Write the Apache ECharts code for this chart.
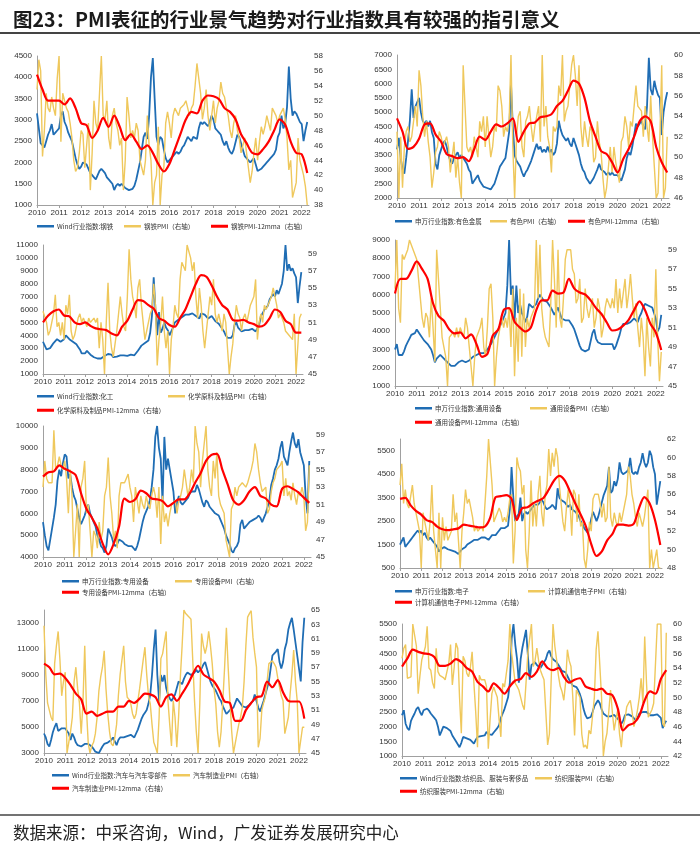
<!DOCTYPE html>
<html><head><meta charset="utf-8">
<script src="https://cdn.jsdelivr.net/npm/echarts@6/dist/echarts.min.js"></script>
<style>html,body{margin:0;padding:0;background:#fff}#c{width:700px;height:845px}</style>
</head><body><div id="c"></div>
<script>
// ---------- data (monthly index & PMI from 2010-01; 12mma quarterly from 2010-01) ----------
const yearLabels = ['2010','2011','2012','2013','2014','2015','2016','2017','2018','2019','2020','2021','2022'];

const steelIdx = [3150,2800,2450,2400,2350,2500,2650,2750,2900,2650,2700,2750,
2800,3100,3200,2950,2850,2700,2600,2500,2300,2100,1950,1850,
1900,2000,2000,1950,1850,1750,1700,1650,1600,1700,1800,1850,
1800,1750,1650,1600,1550,1500,1350,1450,1500,1450,1500,1450,
1400,1380,1350,1350,1380,1450,1600,1800,2000,2300,2600,2700,
2550,3100,4000,4450,3500,2600,2400,2600,2550,2300,2100,2000,
2000,2100,2150,2200,2250,2200,2250,2350,2400,2500,2600,2550,
2500,2600,2600,2550,2800,2950,2900,2950,2900,2850,2950,3100,
3000,2800,2750,2700,2650,2500,2400,2500,2350,2250,2200,2300,
2300,2650,2600,2450,2300,2150,2100,2050,2000,2050,2100,1950,
1800,1800,1850,1900,1950,2000,2050,2100,2150,2200,2300,2600,
2700,3100,2800,2900,3300,4250,3500,3100,3200,3150,3050,2950,
2900,2500,2750,2950];
const steelPmi = [53.5,57.5,56,44.5,48,53,51,50.5,52.5,51,50,55,
58,46.5,53,52,51,50.5,49,47,44,42.5,43,45,
48,47.5,43,46,49,40,45,52,49,48,53,58,
50,49.5,52,47,45.5,50,51,49,48,46,47,40,
44,52.5,50,47,48,47,49,48,44,43,42,44,
50,46,44,38,41,42,48.5,38,42,43,49,50.5,
49,47,50,51,50.5,50,51,51,51.5,52,51,50,
51,51.5,54,57,55,53,49.5,51,53.5,50,48,50,
52,49,51,52,54.5,53,52.5,51,50,48,47,49,
50,48,47,45,46,47,45,43,41,42.5,45,47,
44,46.5,48.5,47.5,48.5,50,49,48,51,50.5,50,49,
50,50.5,51,49.5,47,42.7,44,39,38.8,41,47,44,
43,42,40.5,38];
const steelMa = [55.5,53.5,52,52, 52,51.5,52.3,51, 49,48.7,47,48, 49.7,48.5,50,48.5,
46.7,47.5,46.5,45.5, 46,45,43.5,42.5, 43.5,45.5,47.5,49.5, 50.5,50.3,52,52.7,
52.6,52.2,51,50.5, 49.5,47.5,46.3,45, 44.8,45.5,46.5,48, 49.5,48.8,46.5,45, 44.8,42.3];

const metalIdx = [3700,4100,3400,3000,2850,3400,4000,4700,5800,4800,5200,5200,
5500,5000,4700,4600,4700,4500,4700,4300,4100,3200,3000,3500,
3700,3900,4000,3800,3500,3300,3200,3400,3500,3600,3400,3500,
3500,3300,3200,3000,2900,2500,2600,2700,2800,2600,2500,2400,
2400,2350,2300,2300,2400,2500,2700,2900,3100,3200,3300,3400,
3400,4300,6000,4500,3500,3300,3200,3100,2900,2750,2900,3000,
3000,3300,3500,3700,3900,3700,3800,3600,3700,3600,3800,3600,
3700,3500,3600,3900,4700,4400,4200,4100,4000,4100,3900,3800,
4100,3900,3700,3500,3200,3000,2900,2700,2600,2500,2550,2700,
2700,3000,3200,3000,3000,2900,2800,2900,2800,2900,2800,2800,
2800,2700,2600,2800,3000,3400,3600,3500,3800,4200,4600,4500,
4500,4700,4500,4400,5200,6900,5800,5600,6100,5800,5600,5500,
4200,5000,5400,5700];
const metalPmi = [52.5,46,52,47,51,52.5,53,51.5,52,52,55,53,
58.5,57,54,52,53.5,51.5,50,47,48.5,50.5,51,52.5,
52,51,51.5,52,51,48.5,50,51.5,48,50,47.5,46,
59,55,51,50.5,51,50,52,51,50,53.5,52.5,54,
51,54,52,50,51,53,52.5,57,56.5,55,52,53,
52.5,53.5,60,51,46,52,54,54.5,51,50,53.5,54,
55,53,51.5,53,54,55,51.5,60,53,55,52,51,
48.5,53,52.5,53,57,56,60,53.5,54.5,55,57,59,
60,58,55,59,53,51,53.5,52,51,53,52.5,49.5,
50,53.5,51.5,50.5,48,46,47,49,51,48.5,51,49.5,
48.5,47.5,51.5,52,54,53,51,53.5,53,55,57,55,
55,54.5,52,55,53,51.5,56,52,49,46,46.5,52,
59,46,47,52];
const metalMa = [53.8,52.5,50.8,51, 51.8,53.2,53.3,52.2, 51.5,50.3,50.1,49.9, 50,49.6,50.8,52,
51.7,52.5,53.2,53, 53.3,53.8,51.5,52.5, 53.3,53.4,53.9,54, 54.2,55,55.5,56.5,
57.5,57.2,55.8,53.5, 52,50.6,50.3,49.5, 48.5,49.8,50.8,52, 53.5,54,53.5,51, 49.5,48.5];

const chemIdx = [3500,3200,2900,2800,3000,3200,3400,3500,3700,3800,3500,3600,
3700,4000,3900,3700,3600,3500,3400,3300,3100,2900,2600,2500,
2600,2800,2700,2500,2400,2300,2300,2200,2250,2200,2300,2400,
2500,2550,2600,2500,2300,2300,2350,2400,2450,2500,2450,2400,
2400,2450,2500,2400,2450,2600,2800,3000,3200,3300,3400,3500,
3600,4200,5500,8500,6000,4000,5800,4200,4500,5000,4600,4400,
4000,4300,4600,5000,5100,5200,5300,5400,5500,5600,5500,5600,
5700,5700,5600,5500,5400,5300,5700,5800,5600,5500,5300,5400,
5500,5300,5100,5000,4900,4700,4500,4300,4000,3800,3700,3800,
4000,4800,5000,4600,4500,4300,4200,4400,4300,4400,4400,4500,
4500,4300,4400,4800,5500,5700,6000,6000,6300,6800,7000,7200,
7000,7500,7200,7300,8000,9000,11000,9000,9500,9000,9200,8800,
8500,6500,7800,8900];
const chemPmi = [52.3,52.5,51,49.5,50,51,52,54.2,50.5,51,49.5,51,
49,53,52,54.2,50,49,49.5,50.5,51.5,52,51,51.5,
51,50.5,51.5,51,51,51.5,51,51.5,48,51,49,45,
51,55.6,50,48,47,48.5,50,52,54,52,50.5,50,
54,59.5,56,54,53,51.5,55,56,53,51,49,50,
51,52,52.5,55.5,53,46,49,51,54,50,48,50,
45,49,50.5,53,52,51.5,56,58,57.5,57,60,60,
58.5,57,58,54,51.5,55,53,50,48,50,52,54,
53,56,52,51,52,51,50,52,51,48,45,47,
48.5,51,53,52,51.5,50,51.5,52,51,52,53,53.5,
54,56,49,51,52,51,53,52.5,53,53.5,54,55,
55,53,51.5,52,51.5,51,50,50,49.5,49.5,49,52,
45,45,51.5,52];
const chemMa = [51,51.8,52.3,52.5, 51.8,51.7,51,50.8, 51,50.6,50.3,50.2, 50.1,49.7,49.5,50.5,
51.2,52.5,53.6,53.5, 53,52.6,51.5,51.2, 50.7,50.5,51.5,52.5, 54,55.5,56.5,56.3,
55.3,54,53,52.5, 51.3,51.2,51.3,51, 50.8,50.5,50.7,51.5, 52.5,52.2,51.2,50.8, 49.8,49.8];

const geqIdx = [3000,3300,2700,2600,2700,2900,3200,3400,3600,3800,3700,3900,
4100,4000,3800,3700,3500,3400,3300,3200,3000,2700,2300,2500,
2500,2700,2600,2500,2400,2300,2200,2100,2000,2100,2200,2300,
2300,2400,2400,2300,2300,2400,2500,2600,2600,2700,2700,2800,
2900,2800,2800,3000,3100,3300,3500,3700,3900,4100,4300,4500,
4500,5000,6500,9000,6000,6500,4500,6500,5000,5500,5000,4800,
4500,4800,5500,5400,5300,5400,5500,5800,6000,5900,5700,5600,
5600,5500,5300,5100,4900,5000,5300,5200,4700,4600,4600,4600,
4600,4500,4300,4100,3800,3500,3200,3000,2900,2900,3000,3000,
3000,3900,4100,3600,3400,3300,3300,3200,3300,3200,3300,3300,
3300,3000,3200,3500,3800,4200,4400,4500,4400,4500,4500,4600,
4700,4600,4500,4800,5000,5300,5500,5600,5400,5500,5300,5000,
4700,4000,4200,4900];
const geqPmi = [55,60,53,51.5,58.5,58,58.5,59,60,60,59,59,
58,56,54,52,51,52.5,52,50,54,51,47.5,59,
56,53,50,49,48,45,50,50,50.5,50,51,50,
51,50.5,50,52,51,49,47,45,48,50,50.5,51,
52,49,48,51,55,55.5,52,45,48,50,51,52,
51,52,51,53,49,55,46,52,47.5,55,48,54.5,
49,52,51,52,52,53,60,54,59.5,53,51,50,
50,49,53.5,60,56,51,59,52,51,54,58,59,
59,59,57,56.5,53.5,54,56,51.5,52,55,53,52,
52,54,51,52,54,53,50,51,53,54,54,53,
54,53,56,52.5,55,53,53,56,53,54.5,56.5,54,
52,53.5,51,49,52,50,46,52,49,47,52,50,
57,50,45.5,48.5];
const geqMa = [54.5,56,56,56.8, 57.8,57,56,53.5, 52.2,51.7,50.8,50.4, 50.5,49.9,50.3,49.3,
48,48.3,50.2,50.8, 52.8,53,51.6,51, 50.6,51,52.8,53.8, 53.8,54.8,54.5,54.6,
56,55,54.6,54.4, 53.8,53,52.4,51.5, 50.7,50.8,51.2,51.8, 52.8,53.7,52.8,51.4, 50.5,48.7];

const speqIdx = [5600,5000,4500,4300,4800,5300,5800,6400,7500,8000,7700,8300,
8700,8600,7600,7800,7200,6800,6600,6200,5800,5500,5700,5900,
6200,6400,6000,5800,5600,5400,5000,4800,4500,4400,4200,4500,
5300,5100,4900,4600,4500,4600,4800,4750,4700,4600,4650,4500,
4500,4500,4400,4300,4500,4800,5200,5600,5900,6100,6300,6600,
7200,8000,9500,10000,9000,8500,6500,9500,8000,8500,8000,7500,
7000,6000,6500,6800,6500,6400,6500,6600,6700,6900,7000,7000,
7000,7300,7100,6800,6500,6300,6600,6500,6300,6200,6100,6000,
6000,5900,5700,5500,5300,5000,4800,4600,4300,4200,4400,4500,
4700,5500,5700,5300,5400,5500,5600,5600,5700,5700,5800,5900,
5800,5600,5800,6000,6300,6600,7300,7600,8000,8200,8500,9000,
9300,8600,8400,8200,8800,9300,9700,9200,9000,9400,8800,8500,
8200,6800,6000,8400];
const speqPmi = [53,56,54,53.5,53.3,53.5,59.5,55,55.5,56.5,55.5,55,
56,54,50,55,52,45,48,51,45,53,54,56,
50,51,48,45,48,47.5,46,49,47,48,52,53,
56.4,52,50,47,48,46,52,53.5,53.5,53.5,54,54.5,
53,52,49,53,53,50,52,51,50.5,52,51,50.5,
52,53,52,49.5,53,46.5,52,49,50,48.5,50,51,
51,51.5,50,51.5,52,53,55,53.5,52,53,55,53.5,
60,58,57,53,56,58,60,55,53,52,56,54,
57,52,51,51,50,47,46,45,50.5,51,53,52,
53,53,53.5,53.5,53,53.5,53.5,55,56,58,57,55,
53.5,52.5,52.5,53,50,50.5,52.5,53.5,54,55,55,55.5,
56,52,54,52,52.5,51.5,53.5,52,51,52.5,52,53,
52,48,49,55.5];
const speqMa = [54.2,54.7,54.8,55.5, 55.1,54.8,54.4,52.3, 50.5,49.5,48.3,46.5, 45.3,46.5,48.5,51.7,
51.3,51.6,52.6,52.3, 51.7,51.6,51.4,50.8, 51.2,51.6,51.6,52.3, 53.5,54.6,56,56.7,
56.8,55,53.3,51.5, 51,51.5,52.5,53, 52,51.7,51,50.8, 52.8,53.1,52.8,52.4, 51.8,51.2];

const elecIdx = [1500,1650,1800,1400,1500,1600,1700,1800,1900,2000,2100,2000,
2100,1900,2000,1800,1700,1800,1700,1600,1500,1400,1200,1300,
1300,1400,1400,1300,1300,1250,1200,1200,1150,1100,1200,1300,
1300,1400,1500,1550,1600,1650,1700,1700,1700,1750,1800,1750,
1800,1750,1700,1800,1900,1900,1900,2000,2100,2200,2200,2200,
2200,2300,3000,4800,3500,2500,2700,2800,3500,2500,2800,2900,
2800,2900,3000,3100,3200,3200,3200,3300,3400,3300,3100,3000,
3000,3100,3200,3100,3000,3900,3500,3400,3400,3300,3200,3100,
3200,3000,3000,2900,2800,2700,2500,2400,2200,2100,2000,2200,
2600,2900,2700,2500,2700,3000,3300,3600,3800,4000,4800,3700,
3800,4200,4000,4300,5000,4600,4500,4500,4600,4700,5200,4600,
4500,4600,4500,4800,5000,5400,5000,4800,5000,5500,5300,4800,
4500,3200,3700,4200];
const elecPmi = [57,59.3,55,56.5,55,54.5,54.5,57,55,54,53,52,
48,54,53,52,51,53,57,52,50,48,54,48,
53.5,51,52.5,51,51.5,52,56,53,54,51,48,52,
54,56.5,55,55.5,55.5,53.5,52,52.5,52,52,52.5,52,
52,58,62,62,57,53,53.5,54,54.5,54,53,53.5,
53,54,55.5,56,48.5,52,60,59,58.5,56,57,50,
48,52,57.5,52.5,55,52.5,56,58,54,52.5,56,57,
60.9,58,60.5,59,61,60,57,55,53,52,54.5,56.5,
55,51.5,56.5,56,53,56,52.5,53,49,48,50,53,
52,55.5,56,56,56,55,53.5,55,53,53.5,59,53.5,
52.5,54,53,52.5,54,53,54,55,56,59,58,56,
55,53.5,52.5,54,54,52.5,53.5,55,56.5,48,50,48,
48,50,48,48];
const elecMa = [55.5,55.6,54.8,54.2, 53.8,53.2,53,52.5, 52.2,52.1,52.2,52.3, 52.7,52.6,52.5,52.4,
52.5,53.5,55.7,55.8, 55.9,55.5,53.2,54.5, 54.6,55,55.3,55.6, 56.5,57.5,58,57.5,
56.3,55,53.8,52.5, 50.6,49.3,49.8,51, 51.7,52.7,52.7,52.6, 52.8,54.5,55.7,55, 53.2,50.5];

const autoIdx = [4500,4200,3700,3500,4000,4600,5000,5300,4700,4800,4900,4950,
4900,4700,4500,4000,4500,4200,3800,3600,3500,3500,3600,3700,
3600,3700,3600,3500,3300,3100,3000,3000,3100,3500,3700,3800,
3800,3900,4000,4200,3900,3600,4000,4200,4200,4200,4300,4300,
4300,4400,4300,4200,4500,4800,5200,5600,5900,6100,6300,6800,
7500,9000,11000,12500,9000,7000,9000,8500,9000,8000,7500,7200,
7000,7000,7500,8000,8500,8500,8300,8700,9000,9200,9300,9000,
9000,9200,9400,9200,9300,9500,9800,10000,9500,9000,8500,8200,
8000,7800,7500,7200,7000,6600,6300,6000,6000,6300,6400,6500,
6500,7200,7000,6800,6600,6500,6500,6500,6700,6800,7000,7500,
7500,6500,6200,6600,7000,7500,8000,8500,9500,10500,10500,10800,
11000,10000,9500,10000,11000,11500,12500,13000,13400,12500,11500,10500,
9500,8500,11500,13400];
const autoPmi = [62.8,56,52,51,50,49.5,57.5,60,62,58,53,55,
56.3,45,46.5,48,50,55,57,54,52,47.7,52,60,
51,46.3,45,46,46.5,47.7,50,53.7,55.6,57,59.3,54,
50.5,48,46.3,46,47.2,49,53,56,58,60,55,52.8,
52.5,51.9,50.5,49.8,50.5,52.3,54,56,58,59.8,56,53,
51.9,49,46.5,45.8,45,50,58.2,58.9,60.5,62,52.3,49,
46,52.3,50,45.8,50,55.6,60,65,64.5,64.4,64,63.7,
58,52.3,48,45,52,61.7,60,58.9,60,62,60,57.5,
54,51.9,48,45.8,48,52.3,57,62.5,57,52.3,48,45,
45,47.7,49,50,51.4,55,60,64,64.5,64.9,61.2,59,
57,45.8,47,51,52,52.8,55,57.5,57.5,57.9,57.5,57,
55.5,54.2,53,52.3,47.7,47.5,50,53.3,56,59.4,55,52.3,
45,45,48.6,48.6];
const autoMa = [57.5,57,56,56.1, 55.5,54.5,53.3,52.5, 50.5,50.8,50.2,50.5, 50.8,50.8,51.5,51.5,
52.3,52,52.6,53.3, 53.2,52.8,51.5,52.8, 53.2,52.3,53.3,54.5, 56,57.2,56,55.5,
55,53.8,52.2,52, 49.5,49.5,51,52, 52.8,53,55,54.2, 55.2,53.5,52.3,52.2, 52.2,49.8];

const textIdx = [2390,2560,2100,1950,1880,2200,2330,2450,2600,2670,2500,2390,
2560,2600,2620,2550,2450,2390,2300,2220,2000,1700,1850,2000,
2000,1950,1930,1850,1700,1650,1500,1400,1300,1450,1650,1620,
1600,1600,1550,1500,1420,1550,1650,1700,1680,1650,1700,1820,
1750,1700,1720,1800,1820,1950,2050,2300,2450,2600,2800,3000,
3500,5000,5500,4800,4300,3500,4300,4700,5000,5300,5300,3600,
4100,4150,4200,4100,4050,4000,4100,4200,4300,4500,4600,4400,
4300,4250,4200,4100,4000,3900,3900,3850,3800,3600,3500,3400,
3400,3350,3250,3100,2900,2600,2400,2280,2300,2330,2500,2700,
2800,2900,2800,2600,2450,2400,2350,2330,2350,2390,2400,2330,
2330,2200,2100,2200,2390,2400,2420,2450,2350,2300,2220,2300,
2450,2480,2500,2560,2500,2450,2390,2400,2390,2400,2420,2450,
2300,1950,2100,2200];
const textPmi = [55.3,56.7,57.2,52.6,52.8,52.8,60,60,57,50.5,53,55.1,
55.1,56.9,59.7,54,53.7,52,51.2,56.7,53.5,53,53,52.7,
52.4,53.5,54.6,57.2,51.7,54,57.4,56.7,50,45.1,55.6,55,
53.3,52.8,54,56.2,51.9,48,43.2,53,52.4,52.4,52.4,51.5,
43,47,50.5,51.4,50.7,50,47,44.6,51.9,51.4,51.4,55,
60,56,56,51.9,51.5,51,50,49,48.3,52,56,56,
60,54.2,55,56.7,55,53.7,53,52.4,48,43.5,45,45.1,
60,57,55.1,53,51.5,50.8,49.6,52,56.5,55,54.2,50,
44.8,51,50.5,50,45,43.2,43.5,43,45.5,45,44.8,50,
56.5,59,59.2,50,42,44,45.1,48,51,48,45.5,47,
48.3,45,43.2,46,47,48.7,49.2,49.6,48,46,47,48.3,
50,52.6,49.2,58.3,52,47.3,47.8,48.3,49.2,49.2,60,60,
60,46.4,46,58.8];
const textMa = [54.2,55.3,56.5,56.2, 56,55.9,55.5,54.3, 54.3,54.6,55.2,54.8, 54,53.5,52.1,51.5,
50.8,51.9,51.3,50.5, 51.5,52.3,52.5,53.3, 52.8,53.5,54.9,54, 53.7,54,52.8,52,
52.4,52.6,51.5,51.2, 51,51.2,50.5,50.3, 48.5,45.5,46.2,46.5, 47.5,49.6,50.8,50.5, 52.5,53.7];

// ---------- layout / style ----------
const C_IDX = '#1f6db4', C_PMI = '#efc85c', C_MA = '#ff0000';
const panels = [
  {grid:{left:37,top:56,width:272,height:149}, y1:[1000,4500,500], y2:[38,58,2],
   names:['Wind行业指数:钢铁','钢铁PMI（右轴）','钢铁PMI-12mma（右轴）'],
   d:[steelIdx,steelPmi,steelMa], leg:[[37,227],[124,227],[211,227]]},
  {grid:{left:397,top:55,width:272,height:143}, y1:[2000,7000,500], y2:[46,60,2],
   names:['申万行业指数:有色金属','有色PMI（右轴）','有色PMI-12mma（右轴）'],
   d:[metalIdx,metalPmi,metalMa], leg:[[395,222],[490,222],[568,222]]},
  {grid:{left:43,top:245,width:260,height:129}, y1:[1000,11000,1000], y2:[45,60,2],
   names:['Wind行业指数:化工','化学原料及制品PMI（右轴）','化学原料及制品PMI-12mma（右轴）'],
   d:[chemIdx,chemPmi,chemMa], leg:[[37,397],[168,397],[37,411]]},
  {grid:{left:395,top:240,width:268,height:146}, y1:[1000,9000,1000], y2:[45,60,2],
   names:['申万行业指数:通用设备','通用设备PMI（右轴）','通用设备PMI-12mma（右轴）'],
   d:[geqIdx,geqPmi,geqMa], leg:[[415,409],[530,409],[415,423]]},
  {grid:{left:43,top:426,width:268,height:131}, y1:[4000,10000,1000], y2:[45,60,2],
   names:['申万行业指数:专用设备','专用设备PMI（右轴）','专用设备PMI-12mma（右轴）'],
   d:[speqIdx,speqPmi,speqMa], leg:[[62,582],[175,582],[62,593]]},
  {grid:{left:400,top:439,width:262,height:129}, y1:[500,6000,1000], y2:[48,62,2],
   names:['申万行业指数:电子','计算机通信电子PMI（右轴）','计算机通信电子PMI-12mma（右轴）'],
   d:[elecIdx,elecPmi,elecMa], leg:[[395,592],[528,592],[395,603]]},
  {grid:{left:44,top:610,width:262,height:143}, y1:[3000,14000,2000], y2:[45,65,2],
   names:['Wind行业指数:汽车与汽车零部件','汽车制造业PMI（右轴）','汽车制造业PMI-12mma（右轴）'],
   d:[autoIdx,autoPmi,autoMa], leg:[[52,776],[173,776],[52,789]]},
  {grid:{left:402,top:624,width:266,height:132}, y1:[1000,5500,500], y2:[42,60,2],
   names:['Wind行业指数:纺织品、服装与奢侈品','纺织服装PMI（右轴）','纺织服装PMI-12mma（右轴）'],
   d:[textIdx,textPmi,textMa], leg:[[400,779],[535,779],[400,792]]}
];

const XMAX = 2022.33;
const lblFont = {fontSize:8, color:'#333', fontFamily:'"Liberation Sans", Arial, sans-serif'};
const plain = v => String(v);
const grids=[], xAxes=[], yAxes=[], series=[], legends=[];
panels.forEach((p,k)=>{
  grids.push(p.grid);
  xAxes.push({type:'value', gridIndex:k, min:2010, max:XMAX, interval:1,
    axisLine:{lineStyle:{color:'#a0a0a0'}}, axisTick:{show:true,length:3,lineStyle:{color:'#a0a0a0'}},
    splitLine:{show:false},
    axisLabel:Object.assign({margin:4, showMaxLabel:false,
      formatter:v=>yearLabels[Math.round(v)-2010]||''}, lblFont)});
  const y1 = {type:'value', gridIndex:k, min:p.y1[0], max:p.y1[1], interval:p.y1[2],
    axisLine:{show:true,lineStyle:{color:'#a0a0a0'}}, axisTick:{show:false}, splitLine:{show:false},
    axisLabel:Object.assign({margin:5, formatter:plain, showMaxLabel:((p.y1[1]-p.y1[0])%p.y1[2]===0)}, lblFont)};
  const y2 = {type:'value', gridIndex:k, position:'right', min:p.y2[0], max:p.y2[1], interval:p.y2[2],
    axisLine:{show:false}, axisTick:{show:false}, splitLine:{show:false},
    axisLabel:Object.assign({margin:5, formatter:plain, showMaxLabel:((p.y2[1]-p.y2[0])%p.y2[2]===0)}, lblFont)};
  yAxes.push(y1, y2);
  const ya = yAxes.length-2;
  series.push({type:'line', name:p.names[0], xAxisIndex:k, yAxisIndex:ya, symbol:'none',
    lineStyle:{color:C_IDX,width:1.8}, itemStyle:{color:C_IDX},
    data:p.d[0].map((v,i)=>[2010+i/12, v])});
  series.push({type:'line', name:p.names[1], xAxisIndex:k, yAxisIndex:ya+1, symbol:'none',
    lineStyle:{color:C_PMI,width:1.4}, itemStyle:{color:C_PMI},
    data:p.d[1].map((v,i)=>[2010+i/12, v])});
  series.push({type:'line', name:p.names[2], xAxisIndex:k, yAxisIndex:ya+1, symbol:'none', smooth:0.3,
    lineStyle:{color:C_MA,width:2.2}, itemStyle:{color:C_MA},
    data:p.d[2].map((v,i)=>[2010+i/4, v])});
  p.names.forEach((n,j)=>{
    legends.push({left:p.leg[j][0], top:p.leg[j][1]-4, padding:0, itemGap:0, selectedMode:false,
      itemWidth:17, itemHeight:j===2?3:2.5, icon:'rect',
      textStyle:{fontSize:6.5,color:'#333',fontFamily:'"Noto Sans CJK SC", sans-serif', padding:[0,0,0,-2]},
      data:[{name:n, icon:'rect'}]});
  });
});

const chart = echarts.init(document.getElementById('c'), null, {renderer:'canvas'});
chart.setOption({
  animation:false, backgroundColor:'#fff',
  title:[{text:'图23：PMI表征的行业景气趋势对行业指数具有较强的指引意义', left:8, top:5,
          textStyle:{fontSize:19.5,fontWeight:'bold',color:'#1a1a1a',fontFamily:'"Noto Sans CJK SC", sans-serif'}},
         {text:'数据来源：中采咨询，Wind，广发证券发展研究中心', left:8, top:819,
          textStyle:{fontSize:16.5,fontWeight:'normal',color:'#222',fontFamily:'"Noto Sans CJK SC", sans-serif'}}],
  graphic:[
    {type:'line', shape:{x1:0,y1:33,x2:700,y2:33}, style:{stroke:'#444',lineWidth:2}},
    {type:'line', shape:{x1:0,y1:815,x2:700,y2:815}, style:{stroke:'#444',lineWidth:1.5}}
  ],
  grid:grids, xAxis:xAxes, yAxis:yAxes, series:series, legend:legends
});
</script></body></html>
